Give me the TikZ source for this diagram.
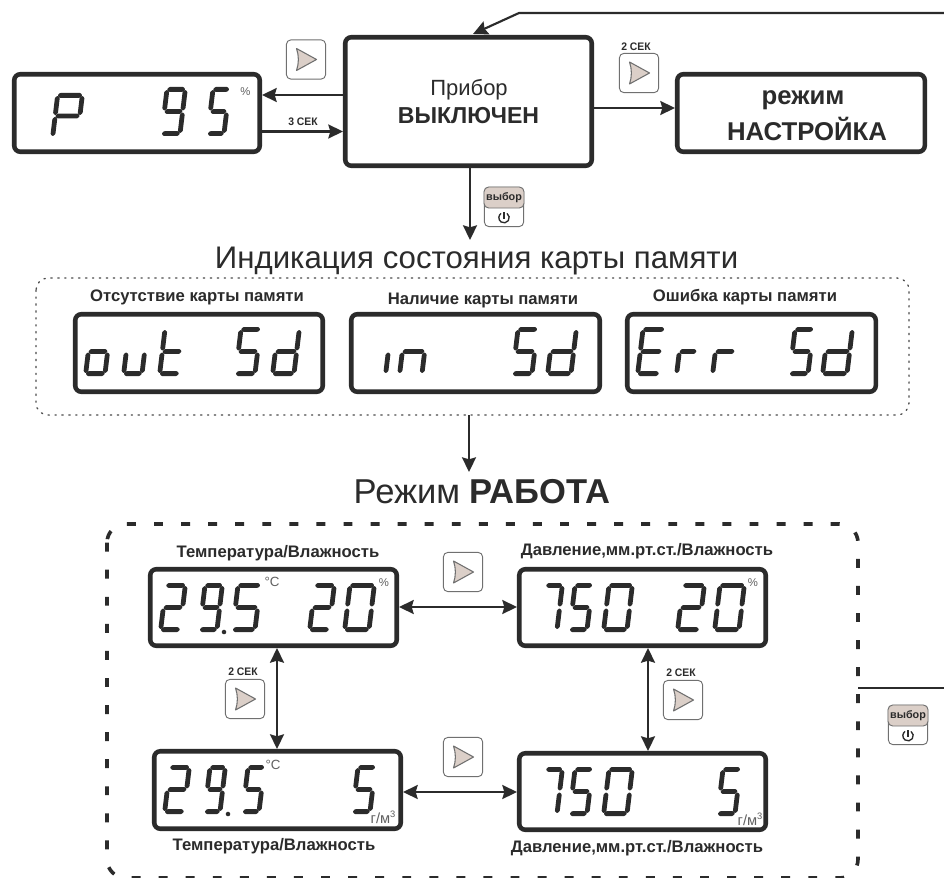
\documentclass[tikz,border=0pt]{standalone}
\usepackage{fontspec}
\setmainfont{Liberation Sans}
\newfontfamily\narrowf[FakeStretch=0.95]{Liberation Sans}
\usetikzlibrary{arrows.meta}
\definecolor{ink}{HTML}{2B2B2B}
\definecolor{keyfill}{HTML}{DBCFC8}
\definecolor{keyline}{HTML}{707070}
\tikzset{
  panel/.style={draw=ink,line width=3.4pt,rounded corners=4.5pt,inner sep=0pt},
  arr/.style={draw=ink,line width=1.6pt,-{Stealth[length=11pt,width=10.5pt,inset=1.5pt]}},
  darr/.style={draw=ink,line width=1.6pt,{Stealth[length=11pt,width=10.5pt,inset=1.5pt]}-{Stealth[length=11pt,width=10.5pt,inset=1.5pt]}},
  keybox/.style={draw=keyline,line width=0.7pt,rounded corners=3.5pt,minimum width=29.5pt,minimum height=29.5pt,inner sep=0pt,fill=white},
  lab/.style={text=ink,inner sep=0pt,font=\bfseries\fontsize{12.5pt}{14pt}\selectfont},
  sec/.style={text=ink,inner sep=0pt,font=\narrowf\bfseries\fontsize{8.2pt}{10pt}\selectfont},
  unit/.style={text=ink!75,inner sep=0pt},
  bigt/.style={text=ink,inner sep=0pt}
}
\def\dH{49}
\newcommand\hs[3]{\fill[ink,rounded corners=0.5pt] (#1,#3) -- ({#1+2.0},{#3-2.4}) -- ({#2-2.0},{#3-2.4}) -- (#2,#3) -- ({#2-2.0},{#3+2.4}) -- ({#1+2.0},{#3+2.4}) -- cycle;}
\newcommand\vs[3]{\fill[ink,rounded corners=0.5pt] (#1,#2) -- ({#1+2.4},{#2+2.0}) -- ({#1+2.4},{#3-2.0}) -- (#1,#3) -- ({#1-2.4},{#3-2.0}) -- ({#1-2.4},{#2+2.0}) -- cycle;}
\newcommand\dsega{\hs{2.4}{\W-2.4}{-\dH+2.4}}
\newcommand\dsegb{\vs{\W-2.4}{-\dH+2.8}{-\dH/2-0.8}}
\newcommand\dsegc{\vs{\W-2.4}{-\dH/2+0.8}{-2.8}}
\newcommand\dsegd{\hs{2.4}{\W-2.4}{-2.4}}
\newcommand\dsege{\vs{2.4}{-\dH/2+0.8}{-2.8}}
\newcommand\dsegf{\vs{2.4}{-\dH+2.8}{-\dH/2-0.8}}
\newcommand\dsegg{\hs{2.4}{\W-2.4}{-\dH/2}}
\newcommand\ssd[4]{\begin{scope}[shift={(#1,#2)},xslant=.12]
  \pgfmathsetmacro\W{#3-0.12*\dH}
  \foreach \s in {#4}{\csname dseg\s\endcsname}
  \end{scope}}
\newcommand\playkey[3]{%
  \node[keybox] (#1) at (#2,#3) {};
  \fill[keyfill,draw=keyline,line width=0.8pt,line join=round]
    ({#2-9.5},{#3-11}) -- ({#2+10.5},{#3}) -- ({#2-9.5},{#3+11}) .. controls ({#2-7},{#3+4}) and ({#2-7},{#3-4}) .. cycle;}
\newcommand\selkey[3]{%
  \node[keybox] (#1) at (#2,#3) {};
  \draw[keyline,fill=keyfill,line width=0.7pt,rounded corners=3.5pt]
    ({#2-20},{#3-20}) rectangle ({#2+20},{#3+1});
  \node[text=ink,inner sep=0pt,font=\bfseries\fontsize{8.1pt}{10pt}\selectfont] (#1t) at ({#2},{#3-9.5}) {выбор};
  \draw[ink,line width=1pt] ({#2+3},{#3+6.4}) arc[start angle=55,end angle=-235,radius=3.9pt];
  \draw[ink,line width=1pt] ({#2},{#3+5}) -- ({#2},{#3+11.5});}
\newcommand\panelbox[5]{\node[panel,minimum width={(#4-#2-4.5)*0.75pt},minimum height={(#5-#3-4.5)*0.75pt}] (#1) at ({(#2+#4)/2},{(#3+#5)/2}) {};}
\begin{document}
\begin{tikzpicture}[x=0.75pt,y=-0.75pt]
\useasboundingbox (0,0) rectangle (944,877);
\clip (0,0) rectangle (944,877);
\fill[white] (0,0) rectangle (944,877);

% panels
\panelbox{pbox}{12}{72}{262}{154}
\panelbox{main}{343}{35}{594}{168}
\panelbox{setup}{675}{72}{927}{154}
\panelbox{outb}{73}{312}{325}{394}
\panelbox{inb}{349}{312}{602}{394}
\panelbox{errb}{625}{312}{878}{394}
\panelbox{tl}{148}{567}{399}{648}
\panelbox{tr}{517}{567}{768}{648}
\panelbox{bl}{152}{749}{403}{831}
\panelbox{br}{517}{751}{768}{832}

% group frames
\draw[ink!85,line width=1pt,line cap=round,dash pattern=on 1pt off 4.2pt,rounded corners=9pt] (36,278) rectangle (909,415);
\draw[ink,line width=2.7pt,dash pattern=on 6.7pt off 13.6pt,rounded corners=14pt] (107,524) rectangle (858,878);

% box texts
\node[bigt,font=\fontsize{16.5pt}{18pt}\selectfont] (t1) at (469,90) {Прибор};
\node[bigt,font=\bfseries\fontsize{17.3pt}{18pt}\selectfont] (t2) at (468.5,116) {ВЫКЛЮЧЕН};
\node[bigt,font=\bfseries\fontsize{19.3pt}{20pt}\selectfont] (t3) at (803,100) {режим};
\node[bigt,font=\bfseries\fontsize{19.3pt}{20pt}\selectfont] (t4) at (807,129) {НАСТРОЙКА};
\node[bigt,font=\fontsize{23.4pt}{26pt}\selectfont] (t5) at (476.5,261) {Индикация состояния карты памяти};
\node[bigt,font=\fontsize{25.9pt}{28pt}\selectfont] (t6) at (482,492) {Режим \textbf{РАБОТА}};

% captions
\node[lab] (c1) at (197,297) {Отсутствие карты памяти};
\node[lab] (c2) at (483,300) {Наличие карты памяти};
\node[lab] (c3) at (745,297) {Ошибка карты памяти};
\node[lab] (c4) at (278,553) {Температура/Влажность};
\node[lab] (c5) at (647,551) {Давление,мм.рт.ст./Влажность};
\node[lab] (c6) at (274,846) {Температура/Влажность};
\node[lab] (c7) at (637,848) {Давление,мм.рт.ст./Влажность};

% keys
\playkey{k1}{306}{59.5}
\playkey{k2}{639}{73}
\selkey{k3}{504}{207}
\playkey{k4}{463}{572}
\playkey{k5}{463}{757}
\playkey{k6}{245}{699}
\playkey{k7}{683}{700}
\selkey{k8}{908}{725}

\node[sec] (s1) at (303,122) {3 СЕК};
\node[sec] (s2) at (636,47) {2 СЕК};
\node[sec] (s3) at (243,672) {2 СЕК};
\node[sec] (s4) at (681,673) {2 СЕК};

% connectors
\draw[arr] (main.west |- 0,95) -- (pbox.east |- 0,95);
\draw[arr] (pbox.east |- 0,131.5) -- (main.west |- 0,131.5);
\draw[arr] (main.east |- 0,108) -- (setup.west |- 0,108);
\coordinate (d1) at (470,240);
\draw[arr] (main.south -| d1) -- (d1);
\coordinate (top1) at (944,13);
\coordinate (top2) at (519,13);
\coordinate (top3) at (473,34);
\draw[arr] (top1) -- (top2) -- (top3);
\coordinate (d2a) at (469,415);
\coordinate (d2b) at (469,472);
\draw[arr] (d2a) -- (d2b);
\draw[darr] (tl.east |- 0,607) -- (tr.west |- 0,607);
\draw[darr] (bl.east |- 0,792) -- (br.west |- 0,792);
\draw[darr] (tl.south -| 277,0) -- (bl.north -| 277,0);
\draw[darr] (tr.south -| 648,0) -- (br.north -| 648,0);
\coordinate (r1) at (858,688);
\coordinate (r2) at (944,688);
\draw[ink,line width=1.5pt] (r1) -- (r2);

% segment readouts
\begingroup\def\dH{46}\ssd{50}{139}{35}{a,b,e,f,g}\endgroup
\ssd{159}{136}{29}{a,b,c,d,f,g}
\ssd{205}{136}{27}{a,c,d,f,g}
\node[unit,font=\fontsize{8.5pt}{9pt}\selectfont] (u1) at (245.5,91.5) {\%};

\ssd{83}{376}{30}{c,d,e,g}
\ssd{121}{376}{29}{c,d,e}
\ssd{157}{376}{30}{d,e,f,g}
\ssd{233}{376}{30}{a,c,d,f,g}
\ssd{270}{376}{32}{b,c,d,e,g}

\ssd{383}{376}{8}{e}
\ssd{397}{376}{33}{c,e,g}
\ssd{510}{376}{30}{a,c,d,f,g}
\ssd{545}{376}{34}{b,c,d,e,g}

\ssd{635}{376}{32}{a,d,e,f,g}
\ssd{674}{376}{28}{e,g}
\ssd{710}{376}{30}{e,g}
\ssd{787}{376}{29}{a,c,d,f,g}
\ssd{820}{376}{35}{b,c,d,e,g}

\ssd{158}{632}{30}{a,b,d,e,g}
\ssd{197}{632}{28}{a,b,c,d,f,g}
\ssd{230}{632}{33}{a,c,d,f,g}
\fill[ink] (224,632) circle[radius=1.7pt];
\ssd{307}{632}{30}{a,b,d,e,g}
\ssd{342}{632}{35}{a,b,c,d,e,f}
\node[unit,font=\fontsize{10pt}{11pt}\selectfont] (u2) at (272,582) {°C};
\node[unit,font=\fontsize{8.5pt}{9pt}\selectfont] (u3) at (384,583) {\%};

\ssd{162}{814}{30}{a,b,d,e,g}
\ssd{202}{814}{26}{a,b,c,d,f,g}
\ssd{240}{814}{27}{a,c,d,f,g}
\fill[ink] (228,814) circle[radius=1.7pt];
\ssd{350}{814}{28}{a,c,d,f,g}
\node[unit,font=\fontsize{10pt}{11pt}\selectfont] (u4) at (273,765) {°C};
\node[unit,font=\fontsize{11pt}{12pt}\selectfont] (u5) at (383,817) {г/м\raisebox{4.5pt}{\fontsize{7pt}{8pt}\selectfont 3}};

\ssd{538}{632}{27}{a,b,c}
\ssd{567}{632}{28}{a,c,d,f,g}
\ssd{601}{632}{34}{a,b,c,d,e,f}
\ssd{675}{632}{32}{a,b,d,e,g}
\ssd{712}{632}{35}{a,b,c,d,e,f}
\node[unit,font=\fontsize{8.5pt}{9pt}\selectfont] (u6) at (753,583) {\%};

\ssd{538}{816}{27}{a,b,c}
\ssd{567}{816}{28}{a,c,d,f,g}
\ssd{601}{816}{34}{a,b,c,d,e,f}
\ssd{715}{816}{28}{a,c,d,f,g}
\node[unit,font=\fontsize{11pt}{12pt}\selectfont] (u7) at (750,819) {г/м\raisebox{4.5pt}{\fontsize{7pt}{8pt}\selectfont 3}};
\end{tikzpicture}
\end{document}
